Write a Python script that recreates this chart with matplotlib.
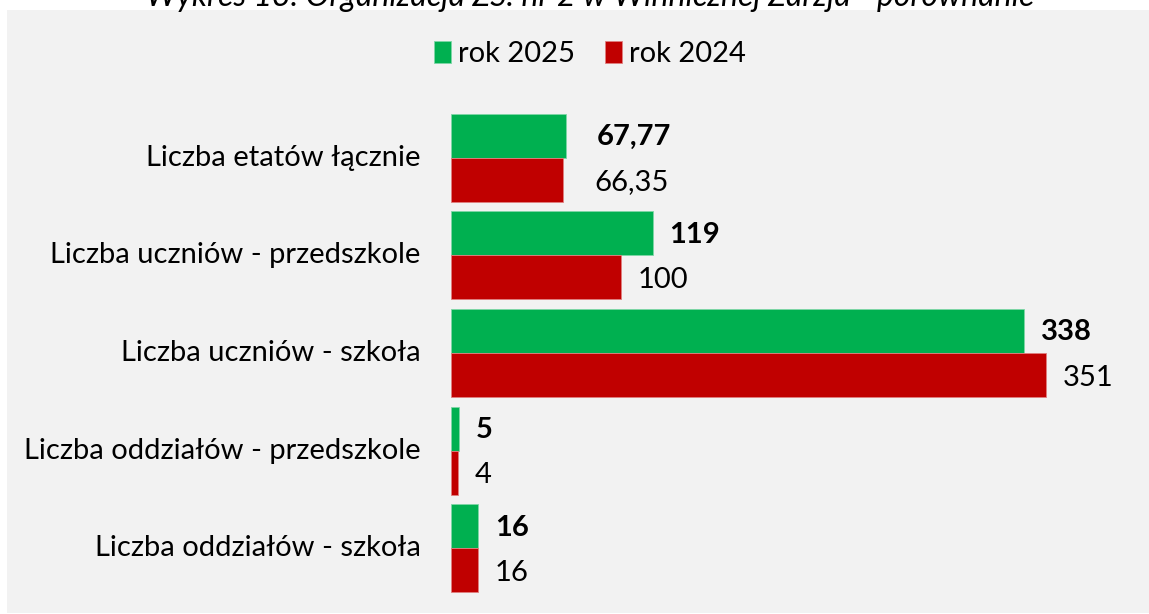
import matplotlib
matplotlib.use("Agg")
import matplotlib.pyplot as plt
import numpy as np

categories = ["Liczba etatów łącznie", "Liczba uczniów - przedszkole", "Liczba uczniów - szkoła",
              "Liczba oddziałów - przedszkole", "Liczba oddziałów - szkoła"]
vals_2025 = [67.77, 119, 338, 5, 16]
vals_2024 = [66.35, 100, 351, 4, 16]
labels_2025 = ["67,77", "119", "338", "5", "16"]
labels_2024 = ["66,35", "100", "351", "4", "16"]
series_names = ["rok 2025", "rok 2024"]
title = "Wykres 13. Organizacja ZS. nr 2 w Winnicznej Zarzja - porównanie"

plt.rcParams['font.family'] = ['Lato', 'DejaVu Sans']
GREEN = "#00B050"
RED = "#C00000"
BG = "#F2F2F2"
FS = 21

W, H = 1149, 614
fig = plt.figure(figsize=(W/100, H/100), dpi=100)
fig.patch.set_facecolor("white")

bg = fig.add_axes([7/W, 1/H, 1 - 7/W, (H - 11)/H])
bg.set_facecolor(BG)
bg.set_xticks([]); bg.set_yticks([])
for s in bg.spines.values():
    s.set_visible(False)

ax = fig.add_axes([451/W, (H - 597)/H, (1100 - 451)/W, (597 - 109)/H])
ax.set_facecolor("none")
n = len(categories)
y = np.arange(n)
h = 0.45
ax.barh(y - h/2, vals_2025, height=h, color=GREEN, label=series_names[0], edgecolor="#7fd7a7", linewidth=0.6)
ax.barh(y + h/2, vals_2024, height=h, color=RED, label=series_names[1], edgecolor="#e08080", linewidth=0.6)
ax.set_ylim(n - 0.5, -0.5)
ax.set_xlim(0, (1100 - 451) / ((1046 - 451) / 351))

label_pad = [22, 12, 12, 12, 12]  # points, label offset from bar end
for i in range(n):
    ax.annotate(labels_2025[i], (vals_2025[i], y[i] - h/2), xytext=(label_pad[i], -1), textcoords="offset points",
                va="center", ha="left", fontsize=FS, fontweight="bold", color="black")
    ax.annotate(labels_2024[i], (vals_2024[i], y[i] + h/2), xytext=(label_pad[i], -2), textcoords="offset points",
                va="center", ha="left", fontsize=FS, color="black")

ax.set_yticks(y)
ax.set_yticklabels(categories, fontsize=FS, va="center")
ax.tick_params(axis="y", length=0, pad=22)
ax.set_xticks([])
for s in ax.spines.values():
    s.set_visible(False)

leg = fig.legend(loc="center", bbox_to_anchor=(590/W, 1 - 54/H), ncol=2, frameon=False, fontsize=FS,
                 handlelength=0.6, handleheight=0.8, handletextpad=0.25, columnspacing=1.0)

fig.text(590/W, 1 - 6/H, title, ha="center", va="baseline", fontsize=23, style="italic")

fig.savefig("out.png", dpi=100)
